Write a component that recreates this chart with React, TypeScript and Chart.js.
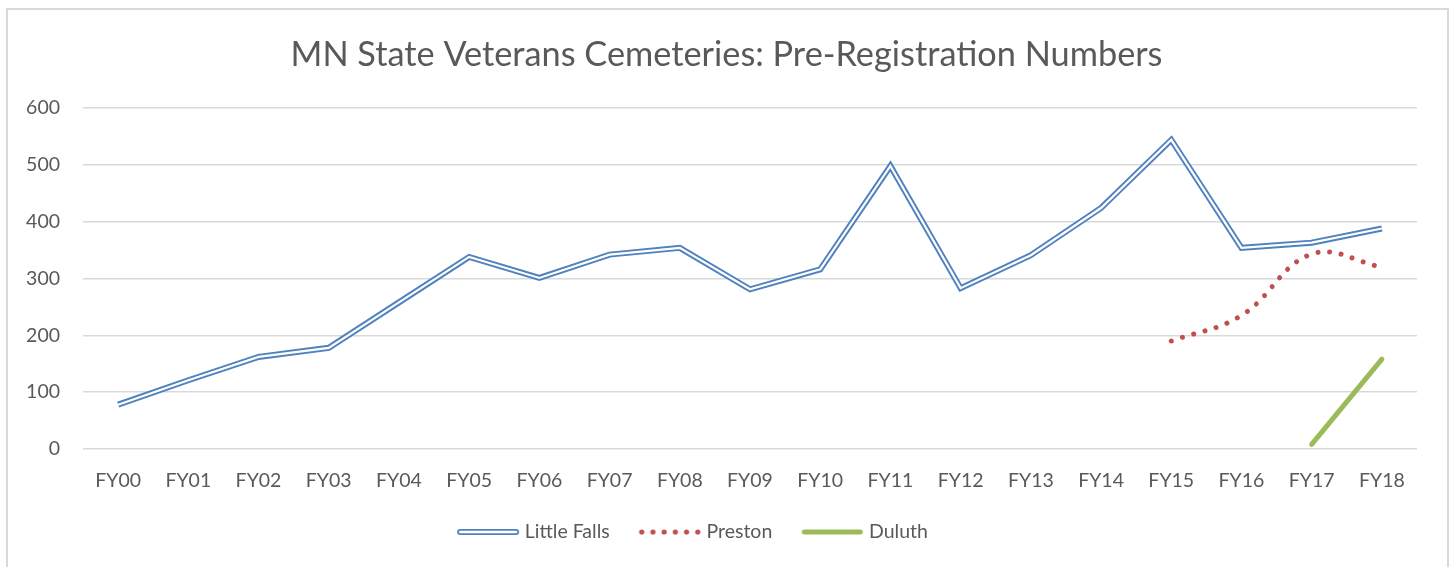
import React, { useEffect, useRef } from "react";
import { Chart, registerables } from "chart.js";

Chart.register(...registerables);

const categories = [
  "FY00", "FY01", "FY02", "FY03", "FY04", "FY05", "FY06", "FY07", "FY08", "FY09",
  "FY10", "FY11", "FY12", "FY13", "FY14", "FY15", "FY16", "FY17", "FY18",
];
const littleFalls = [78, 121, 162, 178, 258, 338, 301, 342, 354, 281, 316, 498, 283, 341, 424, 544, 354, 363, 388];
const preston = [null, null, null, null, null, null, null, null, null, null, null, null, null, null, null, 190, 235, 343, 320];
const duluth = [null, null, null, null, null, null, null, null, null, null, null, null, null, null, null, null, null, 8, 158];
const yTickValues = [0, 100, 200, 300, 400, 500, 600];
const seriesNames = ["Little Falls", "Preston", "Duluth"];
const titleText = "MN State Veterans Cemeteries: Pre-Registration Numbers";

const BLUE = "#4f81bd";
const RED = "#c0504d";
const GREEN = "#9bbb59";
const TEXT = "#595959";
const GRID = "#d9d9d9";
const FONT = "Lato, 'Noto Sans', sans-serif";

function makeIcon(kind: string): HTMLCanvasElement {
  const c = document.createElement("canvas");
  c.width = 64;
  c.height = 10;
  const ctx = c.getContext("2d")!;
  const y = 5;
  if (kind === "double") {
    ctx.lineCap = "round";
    ctx.strokeStyle = BLUE;
    ctx.lineWidth = 6;
    ctx.beginPath();
    ctx.moveTo(4, y);
    ctx.lineTo(60, y);
    ctx.stroke();
    ctx.strokeStyle = "#ffffff";
    ctx.lineWidth = 2.4;
    ctx.beginPath();
    ctx.moveTo(4, y);
    ctx.lineTo(60, y);
    ctx.stroke();
  } else if (kind === "dots") {
    ctx.fillStyle = RED;
    for (let i = 0; i < 6; i++) {
      ctx.beginPath();
      ctx.arc(4 + i * 11.2, y, 2.6, 0, Math.PI * 2);
      ctx.fill();
    }
  } else {
    ctx.lineCap = "round";
    ctx.strokeStyle = GREEN;
    ctx.lineWidth = 5;
    ctx.beginPath();
    ctx.moveTo(4, y);
    ctx.lineTo(60, y);
    ctx.stroke();
  }
  return c;
}

export default function App() {
  const canvasRef = useRef<HTMLCanvasElement | null>(null);

  useEffect(() => {
    const canvas = canvasRef.current;
    if (!canvas) return;
    const icons = [makeIcon("double"), makeIcon("dots"), makeIcon("solid")];

    const boxShift = {
      id: "boxShift",
      afterLayout(chart: any) {
        const lg = chart.legend;
        if (lg) {
          lg.left -= 14;
          lg.right -= 14;
        }
        const tb = chart.titleBlock;
        if (tb) {
          tb.left += 18;
          tb.right += 18;
        }
      },
    };

    const chart = new Chart(canvas, {
      type: "line",
      data: {
        labels: categories,
        datasets: [
          {
            label: "inner",
            data: littleFalls,
            borderColor: "#ffffff",
            borderWidth: 2.2,
            borderJoinStyle: "miter",
            pointRadius: 0,
            order: 0,
            tension: 0,
          },
          {
            label: seriesNames[0],
            data: littleFalls,
            borderColor: BLUE,
            backgroundColor: BLUE,
            borderWidth: 6,
            borderJoinStyle: "miter",
            pointRadius: 0,
            order: 1,
            tension: 0,
          },
          {
            label: seriesNames[1],
            data: preston,
            borderColor: RED,
            backgroundColor: RED,
            borderWidth: 5,
            borderDash: [0.01, 11.7],
            borderCapStyle: "round",
            pointRadius: 0,
            order: 2,
            tension: 0.4,
            spanGaps: false,
          },
          {
            label: seriesNames[2],
            data: duluth,
            borderColor: GREEN,
            backgroundColor: GREEN,
            borderWidth: 5,
            borderCapStyle: "round",
            pointRadius: 0,
            order: 3,
            tension: 0,
          },
        ],
      },
      options: {
        animation: false,
        responsive: false,
        maintainAspectRatio: false,
        layout: { padding: { left: 0, right: 36, top: 0, bottom: 15.25 } },
        plugins: {
          tooltip: { enabled: false },
          title: {
            display: true,
            text: titleText,
            color: TEXT,
            font: { family: FONT, size: 34.3, weight: "normal", lineHeight: 1.2 },
            padding: { top: 34.2, bottom: 32.64 },
          },
          legend: {
            display: true,
            position: "bottom",
            labels: {
              color: TEXT,
              font: { family: FONT, size: 19.5 },
              usePointStyle: true,
              pointStyleWidth: 54,
              padding: 33,
              generateLabels: () => {
                return seriesNames.map((name, i) => ({
                  text: name,
                  fillStyle: "transparent",
                  strokeStyle: "transparent",
                  lineWidth: 0,
                  pointStyle: icons[i],
                  hidden: false,
                  datasetIndex: i + 1,
                  fontColor: TEXT,
                }));
              },
            },
          },
        },
        scales: {
          x: {
            offset: true,
            grid: { display: false, drawTicks: false },
            border: { display: false },
            ticks: {
              color: TEXT,
              font: { family: FONT, size: 19.5 },
              padding: 20,
              maxRotation: 0,
              autoSkip: false,
            },
            afterFit: (scale: any) => {
              scale.height = 40.25;
            },
          },
          y: {
            min: 0,
            max: 600,
            grid: { color: GRID, lineWidth: 1.5, drawTicks: false },
            border: { display: false },
            afterBuildTicks: (scale: any) => {
              scale.ticks = yTickValues.map((v) => ({ value: v }));
            },
            ticks: {
              color: TEXT,
              font: { family: FONT, size: 19.5 },
              padding: 23,
            },
            afterFit: (scale: any) => {
              scale.width = 83;
            },
          },
        },
      },
      plugins: [boxShift],
    } as any);

    return () => {
      chart.destroy();
    };
  }, []);

  return (
    <div
      style={{
        position: "fixed",
        left: 0,
        top: 0,
        width: 1453,
        height: 567,
        overflow: "hidden",
        background: "#ffffff",
      }}
    >
      <div
        style={{
          position: "absolute",
          left: 6,
          top: 8,
          width: 1439,
          height: 620,
          border: "2px solid #d9d9d9",
          boxSizing: "content-box",
        }}
      />
      <canvas
        ref={canvasRef}
        width={1453}
        height={567}
        style={{ position: "absolute", left: 0, top: 0, width: 1453, height: 567 }}
      />
    </div>
  );
}
